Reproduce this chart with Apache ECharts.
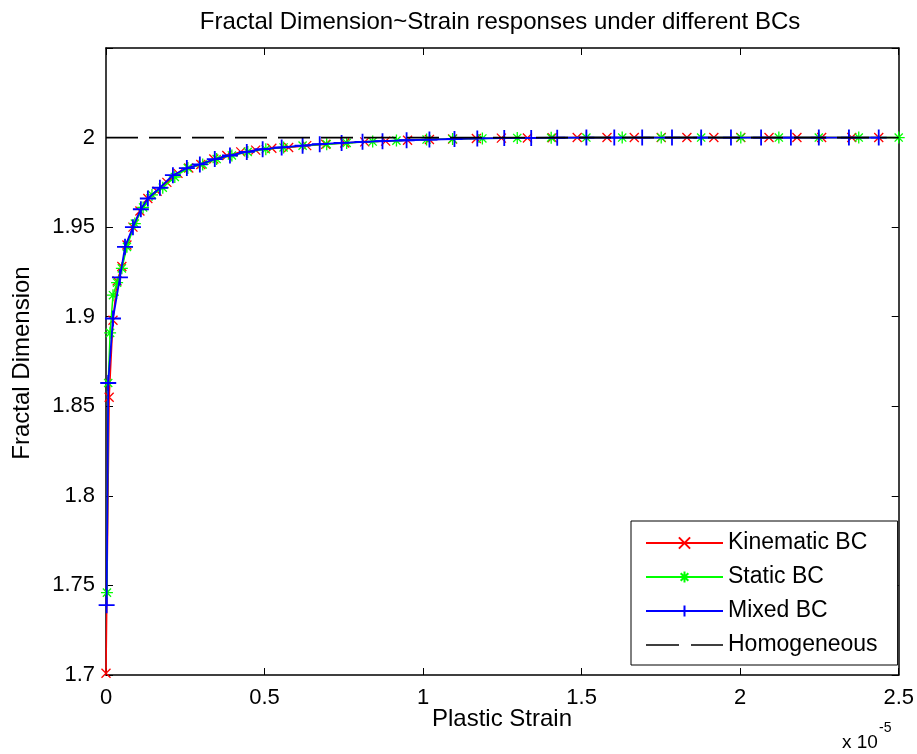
<!DOCTYPE html>
<html><head><meta charset="utf-8">
<script src="https://cdn.jsdelivr.net/npm/echarts@6/dist/echarts.min.js"></script>
<style>html,body{margin:0;padding:0;background:#fff}#c{width:917px;height:754px}</style>
</head><body><div id="c"></div>
<script>
// Plastic strain values are in units of 1e-5
const kinematicX = [0, 0.010, 0.022, 0.035, 0.050, 0.066, 0.085, 0.107, 0.132, 0.161, 0.192, 0.227, 0.261, 0.299, 0.340, 0.381, 0.425, 0.472, 0.523, 0.576, 0.633, 0.693, 0.753, 0.816, 0.882, 0.951, 1.020, 1.093, 1.168, 1.247, 1.329, 1.407, 1.486, 1.580, 1.666, 1.751, 1.832, 1.917, 2.002, 2.091, 2.179, 2.257, 2.352, 2.437];
const kinematicY = [1.701, 1.855, 1.898, 1.920, 1.928, 1.940, 1.950, 1.959, 1.966, 1.970, 1.975, 1.980, 1.983, 1.985, 1.988, 1.990, 1.992, 1.993, 1.994, 1.9945, 1.9955, 1.9963, 1.997, 1.9976, 1.998, 1.9985, 1.9989, 1.9992, 1.9995, 1.9997, 1.9998, 1.9999, 2.0, 2.0, 2.0, 2.0, 2.0, 2.0, 2.0, 2.0, 2.0, 2.0, 2.0, 2.0];

const staticX = [0.003, 0.007, 0.013, 0.022, 0.035, 0.050, 0.066, 0.091, 0.117, 0.145, 0.179, 0.217, 0.258, 0.305, 0.349, 0.397, 0.447, 0.504, 0.560, 0.620, 0.696, 0.759, 0.841, 0.916, 1.011, 1.093, 1.187, 1.297, 1.404, 1.515, 1.628, 1.751, 1.877, 2.002, 2.122, 2.248, 2.374, 2.500];
const staticY = [1.746, 1.863, 1.891, 1.912, 1.919, 1.927, 1.939, 1.952, 1.961, 1.968, 1.972, 1.978, 1.983, 1.985, 1.988, 1.990, 1.992, 1.9935, 1.9945, 1.9955, 1.9963, 1.997, 1.9978, 1.9983, 1.9989, 1.9992, 1.9995, 1.9998, 1.9999, 2.0, 2.0, 2.0, 2.0, 2.0, 2.0, 2.0, 2.0, 2.0];

const mixedX = [0.002, 0.007, 0.022, 0.044, 0.060, 0.085, 0.110, 0.132, 0.170, 0.211, 0.255, 0.296, 0.343, 0.391, 0.444, 0.494, 0.554, 0.620, 0.674, 0.743, 0.809, 0.872, 0.948, 1.020, 1.099, 1.171, 1.256, 1.341, 1.423, 1.515, 1.603, 1.691, 1.785, 1.877, 1.971, 2.066, 2.160, 2.248, 2.343, 2.437];
const mixedY = [1.739, 1.863, 1.899, 1.922, 1.939, 1.950, 1.960, 1.966, 1.972, 1.979, 1.983, 1.985, 1.988, 1.990, 1.992, 1.9935, 1.9945, 1.9955, 1.9963, 1.997, 1.9976, 1.998, 1.9985, 1.9989, 1.9992, 1.9995, 1.9997, 1.9998, 1.9999, 2.0, 2.0, 2.0, 2.0, 2.0, 2.0, 2.0, 2.0, 2.0, 2.0, 2.0];

const homogeneousX = [0, 2.5];
const homogeneousY = [2, 2];

const seriesNames = ['Kinematic BC', 'Static BC', 'Mixed BC', 'Homogeneous'];
const xTicks = [0, 0.5, 1, 1.5, 2, 2.5];
const yTicks = [1.7, 1.75, 1.8, 1.85, 1.9, 1.95, 2];

const FONT = "'Liberation Sans', Arial, sans-serif";
const pairs = (xs, ys) => xs.map((x, i) => [x, ys[i]]);

const X_SYM = 'path://M0,0L10,10M0,10L10,0';
const PLUS_SYM = 'path://M5,0L5,10M0,5L10,5';
const STAR_SYM = 'path://M5,0L5,10M0,5L10,5M1.6,1.6L8.4,8.4M1.6,8.4L8.4,1.6';
// legend icon for the dashed reference line (box 77 x 14)
const DASH_ICON = 'path://M0,0L0.01,0L0,0.01ZM77,14L76.99,14L77,13.99ZM0,6.2L33,6.2L33,7.8L0,7.8ZM45,6.2L77,6.2L77,7.8L45,7.8Z';

const chart = echarts.init(document.getElementById('c'), null, {renderer: 'canvas'});

const xMin = xTicks[0], xMax = xTicks[xTicks.length - 1], xInt = xTicks[1] - xTicks[0];
const yMin = yTicks[0], yInt = 0.05, yMax = 2.05;

const axisCommon = {
  type: 'value',
  splitLine: {show: false},
  axisLine: {show: true, onZero: false, lineStyle: {color: '#000', width: 1.5}},
  axisTick: {show: true, inside: true, length: 7, lineStyle: {color: '#000', width: 1}},
};

chart.setOption({
  animation: false,
  backgroundColor: '#fff',
  grid: {left: 106, right: 17, top: 48, bottom: 79, containLabel: false},
  xAxis: [
    Object.assign({}, axisCommon, {
      position: 'bottom', min: xMin, max: xMax, interval: xInt,
      axisLabel: {show: true, color: '#000', fontFamily: FONT, fontSize: 22, margin: 12,
        formatter: v => String(Math.round(v * 10) / 10)}
    }),
    Object.assign({}, axisCommon, {
      position: 'top', min: xMin, max: xMax, interval: xInt,
      axisLabel: {show: false}
    })
  ],
  yAxis: [
    Object.assign({}, axisCommon, {
      position: 'left', min: yMin, max: yMax, interval: yInt,
      axisLabel: {show: true, color: '#000', fontFamily: FONT, fontSize: 22, margin: 11,
        formatter: v => (v > 2.0001 ? '' : String(Math.round(v * 100) / 100))}
    }),
    Object.assign({}, axisCommon, {
      position: 'right', min: yMin, max: yMax, interval: yInt,
      axisLabel: {show: false}
    })
  ],
  legend: {
    show: true,
    orient: 'vertical',
    left: 631, top: 521,
    padding: [9, 20, 7, 14],
    itemWidth: 77, itemHeight: 14, itemGap: 8,
    backgroundColor: '#fff',
    borderColor: '#000', borderWidth: 1, borderRadius: 0,
    textStyle: {color: '#000', fontFamily: FONT, fontSize: 23, lineHeight: 26},
    data: [
      seriesNames[0], seriesNames[1], seriesNames[2],
      {name: seriesNames[3], icon: DASH_ICON, itemStyle: {color: '#000', borderWidth: 0}}
    ]
  },
  series: [
    {
      name: seriesNames[0], type: 'line', data: pairs(kinematicX, kinematicY),
      symbol: X_SYM, symbolSize: 9, symbolKeepAspect: true,
      itemStyle: {color: '#ff0000', borderColor: '#ff0000', borderWidth: 1.3},
      lineStyle: {color: '#ff0000', width: 1.5}, z: 2
    },
    {
      name: seriesNames[1], type: 'line', data: pairs(staticX, staticY),
      symbol: STAR_SYM, symbolSize: 12, symbolKeepAspect: true,
      itemStyle: {color: '#00ff00', borderColor: '#00ff00', borderWidth: 1.3},
      lineStyle: {color: '#00ff00', width: 1.5}, z: 3
    },
    {
      name: seriesNames[2], type: 'line', data: pairs(mixedX, mixedY),
      symbol: PLUS_SYM, symbolSize: 16, symbolKeepAspect: true,
      itemStyle: {color: '#0000ff', borderColor: '#0000ff', borderWidth: 1.8},
      lineStyle: {color: '#0000ff', width: 1.8}, z: 4
    },
    {
      name: seriesNames[3], type: 'line', data: pairs(homogeneousX, homogeneousY),
      symbol: 'none',
      itemStyle: {color: '#000'},
      lineStyle: {color: '#000', width: 1.8, type: [32, 11]}, z: 5
    }
  ],
  graphic: [
    {type: 'text', x: 500, y: 22, z: 10,
      style: {text: 'Fractal Dimension~Strain responses under different BCs', font: '24px ' + FONT, fill: '#000', textAlign: 'center', textVerticalAlign: 'middle'}},
    {type: 'text', x: 502, y: 719, z: 10,
      style: {text: 'Plastic Strain', font: '24px ' + FONT, fill: '#000', textAlign: 'center', textVerticalAlign: 'middle'}},
    {type: 'text', x: 22, y: 363, rotation: Math.PI / 2, z: 10,
      style: {text: 'Fractal Dimension', font: '24px ' + FONT, fill: '#000', textAlign: 'center', textVerticalAlign: 'middle'}},
    {type: 'text', x: 842, y: 743, z: 10,
      style: {text: 'x 10', font: '19px ' + FONT, fill: '#000', textAlign: 'left', textVerticalAlign: 'middle'}},
    {type: 'text', x: 879, y: 728, z: 10,
      style: {text: '-5', font: '14px ' + FONT, fill: '#000', textAlign: 'left', textVerticalAlign: 'middle'}}
  ]
});
</script>
</body></html>
